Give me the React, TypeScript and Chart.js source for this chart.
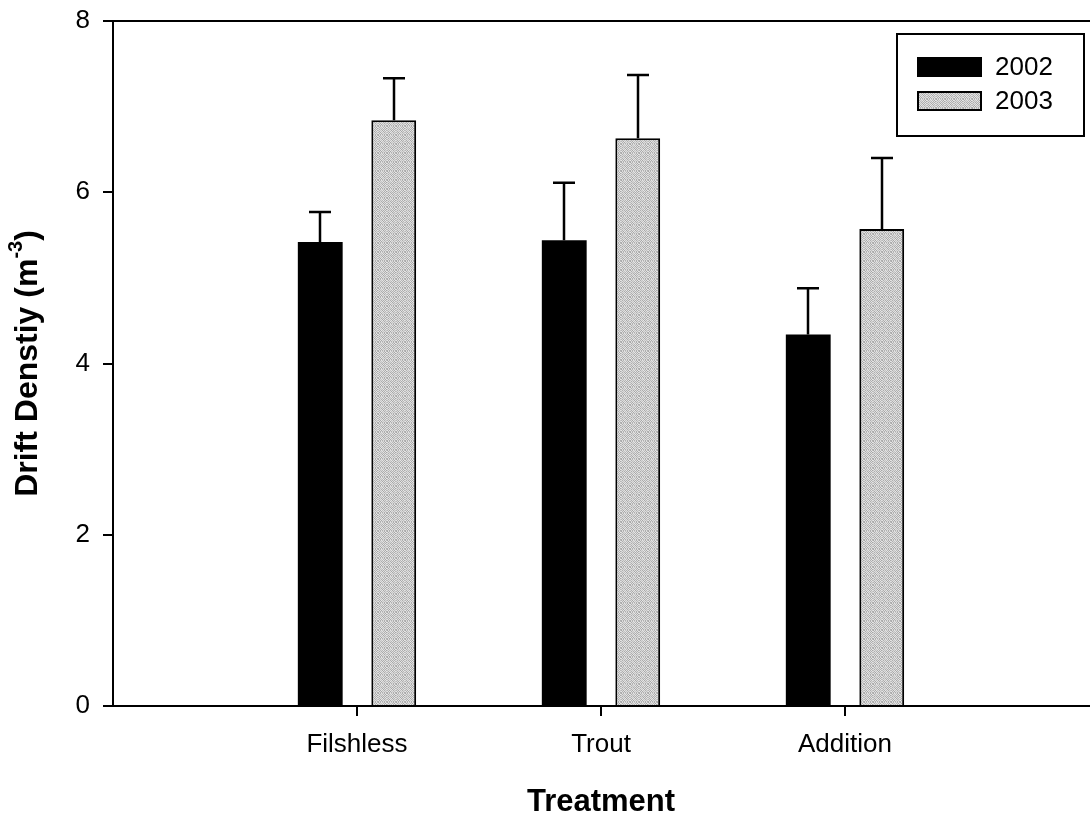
import { useEffect, useRef } from 'react';
import { Chart, registerables } from 'chart.js';

Chart.register(...registerables);

// Treatments and yearly means (drift density, m^-3) with standard errors
const treatments = ['Filshless', 'Trout', 'Addition'];
const years = ['2002', '2003'];
const density2002 = [5.42, 5.44, 4.34];
const error2002 = [0.35, 0.67, 0.54];
const density2003 = [6.84, 6.63, 5.57];
const error2003 = [0.49, 0.74, 0.83];
const yTickValues = [0, 2, 4, 6, 8];

const FONT = 'Liberation Sans, Arial, Helvetica, sans-serif';
const W = 1090;
const H = 821;

// grainy grey fill used by the 2003 bars
function makeStipple(ctx: CanvasRenderingContext2D): CanvasPattern | string {
  const n = 9;
  const tile = document.createElement('canvas');
  tile.width = n;
  tile.height = n;
  const t = tile.getContext('2d');
  if (!t) return '#c8c8c8';
  for (let r = 0; r < n; r++) {
    for (let c = 0; c < n; c++) {
      const checker = (r + c) % 2 === 0;
      const jitter = ((r * 37 + c * 71 + r * c * 13) % 5) * 8;
      const v = checker ? 0xa6 + jitter : 0xd8 + Math.floor(jitter / 2);
      t.fillStyle = `rgb(${v},${v},${v})`;
      t.fillRect(c, r, 1, 1);
    }
  }
  return ctx.createPattern(tile, 'repeat') || '#c8c8c8';
}

export default function App() {
  const canvasRef = useRef<HTMLCanvasElement | null>(null);

  useEffect(() => {
    const canvas = canvasRef.current;
    if (!canvas) return;
    const ctx = canvas.getContext('2d');
    if (!ctx) return;
    const stipple = makeStipple(ctx);

    // blank slots on each side keep the groups away from the axis ends
    const labels = ['', ...treatments, ''];
    const pad = (arr: number[]) => [null, ...arr, null];
    const errors = [error2002, error2003];

    const extras = {
      id: 'extras',
      afterDatasetsDraw(chart: any) {
        const c = chart.ctx as CanvasRenderingContext2D;
        const area = chart.chartArea;
        const yScale = chart.scales.y;
        c.save();

        // error bars (upper half only)
        c.strokeStyle = '#000';
        c.lineWidth = 2.5;
        chart.data.datasets.forEach((ds: any, di: number) => {
          const meta = chart.getDatasetMeta(di);
          meta.data.forEach((bar: any, i: number) => {
            const v = ds.data[i];
            if (v == null) return;
            const e = errors[di][i - 1];
            const x = Math.round(bar.x);
            const yTop = yScale.getPixelForValue(v + e);
            const yBar = yScale.getPixelForValue(v);
            c.beginPath();
            c.moveTo(x, yBar);
            c.lineTo(x, yTop);
            c.moveTo(x - 11, yTop);
            c.lineTo(x + 11, yTop);
            c.stroke();
          });
        });

        // top frame line
        c.lineWidth = 2;
        c.beginPath();
        c.moveTo(area.left - 1, area.top);
        c.lineTo(W, area.top);
        c.stroke();

        // legend
        const lx = 897, ly = 34, lw = 187, lh = 102;
        c.lineWidth = 2;
        c.strokeRect(lx, ly, lw, lh);
        const swatchY = [57, 91];
        c.font = `26px ${FONT}`;
        c.textBaseline = 'middle';
        c.textAlign = 'left';
        years.forEach((name, i) => {
          const ds = chart.data.datasets[i];
          c.fillStyle = ds.backgroundColor;
          c.fillRect(917, swatchY[i], 65, 20);
          if (i === 1) {
            c.lineWidth = 2;
            c.strokeRect(918, swatchY[i] + 1, 63, 18);
          }
          c.fillStyle = '#000';
          c.fillText(name, 995, swatchY[i] + 11);
        });

        // y-axis title with superscript unit
        const main = 'Drift Denstiy (m';
        const sup = '-3';
        const close = ')';
        const bigFont = `bold 32px ${FONT}`;
        const supFont = `bold 20px ${FONT}`;
        c.font = bigFont;
        const wMain = c.measureText(main).width;
        const wClose = c.measureText(close).width;
        c.font = supFont;
        const wSup = c.measureText(sup).width;
        const total = wMain + wSup + wClose;
        c.translate(28, (area.top + area.bottom) / 2);
        c.rotate(-Math.PI / 2);
        c.fillStyle = '#000';
        c.textBaseline = 'middle';
        let x = -total / 2;
        c.font = bigFont;
        c.fillText(main, x, 0);
        x += wMain;
        c.font = supFont;
        c.fillText(sup, x, -12);
        x += wSup;
        c.font = bigFont;
        c.fillText(close, x, 0);

        c.restore();
      },
    };

    const chart = new Chart(canvas, {
      type: 'bar',
      data: {
        labels,
        datasets: [
          {
            label: years[0],
            data: pad(density2002),
            backgroundColor: '#000',
            borderWidth: 0,
          },
          {
            label: years[1],
            data: pad(density2003),
            backgroundColor: stipple as any,
            borderColor: '#000',
            borderWidth: 2,
          },
        ],
      },
      options: {
        responsive: false,
        animation: false,
        devicePixelRatio: 1,
        layout: { padding: { top: 21, right: 1, left: 0, bottom: 0 } },
        datasets: {
          bar: {
            categoryPercentage: 0.6025,
            barPercentage: 0.61,
          },
        },
        plugins: {
          legend: { display: false },
          tooltip: { enabled: false },
        },
        scales: {
          x: {
            offset: false,
            afterBuildTicks: (s: any) => {
              s.ticks = s.ticks.filter((t: any) => t.value >= 1 && t.value <= treatments.length);
            },
            afterFit: (s: any) => {
              s.height = 115;
              s.paddingLeft = 0;
              s.paddingRight = 0;
            },
            ticks: {
              autoSkip: false,
              maxRotation: 0,
              color: '#000',
              padding: 13,
              font: { family: FONT, size: 26 },
            },
            grid: {
              offset: false,
              drawOnChartArea: false,
              drawTicks: true,
              tickLength: 10,
              color: '#000',
              lineWidth: 2,
            },
            border: { color: '#000', width: 2 },
            title: {
              display: true,
              text: 'Treatment',
              color: '#000',
              font: { family: FONT, size: 31, weight: 'bold' },
              padding: { top: 0, bottom: 0 },
            },
          },
          y: {
            min: 0,
            max: 8,
            afterBuildTicks: (s: any) => {
              s.ticks = yTickValues.map((v) => ({ value: v }));
            },
            afterFit: (s: any) => {
              s.width = 113;
              s.paddingTop = 0;
              s.paddingBottom = 0;
            },
            ticks: {
              color: '#000',
              padding: 13,
              font: { family: FONT, size: 26 },
            },
            grid: {
              drawOnChartArea: false,
              drawTicks: true,
              tickLength: 10,
              color: '#000',
              lineWidth: 2,
            },
            border: { color: '#000', width: 2 },
          },
        },
      },
      plugins: [extras],
    });

    return () => chart.destroy();
  }, []);

  return (
    <div style={{ position: 'fixed', left: 0, top: 0, width: W, height: H, background: '#fff' }}>
      <canvas ref={canvasRef} width={W} height={H} style={{ display: 'block' }} />
    </div>
  );
}
